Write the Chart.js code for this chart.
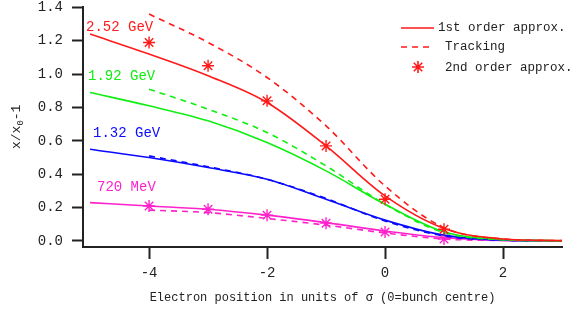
<!DOCTYPE html>
<html>
<head>
<meta charset="utf-8">
<script src="https://cdn.jsdelivr.net/npm/chart.js@4.4.1/dist/chart.umd.min.js"></script>
<style>
  html, body { margin: 0; padding: 0; background: #fff; }
  #wrap { width: 575px; height: 312px; }
</style>
</head>
<body>
<div id="wrap"><canvas id="grafico"></canvas></div>
<script>
// posições do elétron (unidades de sigma)
const posCurva = [-5, -4, -3, -2, -1, 0, 1, 2, 3];
const posTracking = [-4, -3, -2, -1, 0, 1, 2, 3];
const posSegunda = [-4, -3, -2, -1, 0, 1];

// 2.52 GeV
const primeira252 = [1.24, 1.12, 0.99, 0.83, 0.57, 0.27, 0.075, 0.012, 0.002];
const tracking252 = [1.36, 1.19, 0.98, 0.69, 0.33, 0.08, 0.012, 0.002];
const segunda252 = [1.19, 1.05, 0.84, 0.57, 0.25, 0.07];
// 1.92 GeV
const primeira192 = [0.89, 0.81, 0.72, 0.59, 0.42, 0.22, 0.055, 0.008, 0.001];
const tracking192 = [0.91, 0.79, 0.65, 0.45, 0.22, 0.05, 0.008, 0.001];
// 1.32 GeV
const primeira132 = [0.55, 0.50, 0.44, 0.37, 0.25, 0.125, 0.035, 0.005, 0.001];
const tracking132 = [0.51, 0.445, 0.37, 0.255, 0.12, 0.03, 0.005, 0.001];
// 720 MeV
const primeira720 = [0.23, 0.21, 0.19, 0.155, 0.11, 0.06, 0.02, 0.004, 0.001];
const tracking720 = [0.185, 0.17, 0.135, 0.095, 0.048, 0.012, 0.003, 0.001];
const segunda720 = [0.21, 0.19, 0.155, 0.107, 0.054, 0.012];

const ticksX = [-4, -2, 0, 2];
const ticksY = [0, 0.2, 0.4, 0.6, 0.8, 1.0, 1.2, 1.4];
const energias = ['2.52 GeV', '1.92 GeV', '1.32 GeV', '720 MeV'];

const VERMELHO = '#ff1a1a', VERDE = '#11ee11', AZUL = '#0a0aff', ROSA = '#ff22cc';
const FONTE = '"Liberation Mono", "DejaVu Sans Mono", monospace';

function pares(xs, ys) { return xs.map((x, i) => ({ x: x, y: ys[i] })); }

function linha(dados, cor, tracejada) {
    return {
        data: dados, borderColor: cor, backgroundColor: cor,
        borderWidth: 1.6, pointRadius: 0, fill: false,
        cubicInterpolationMode: 'monotone',
        borderDash: tracejada ? [6, 5] : []
    };
}
function estrelas(dados, cor) {
    return {
        data: dados, borderColor: cor, backgroundColor: cor, showLine: false,
        pointStyle: 'star', pointRadius: 6, pointBorderWidth: 1.4
    };
}

// textos extras: rótulos de energia, legenda e título do eixo y
const textosExtras = {
    id: 'textosExtras',
    afterDraw(chart) {
        const c = chart.ctx;
        c.save();
        c.textBaseline = 'middle';
        c.font = '14px ' + FONTE;
        const rotulos = [[86, 27, VERMELHO], [88, 76, VERDE], [93, 133, AZUL], [97, 187, ROSA]];
        energias.forEach((t, i) => {
            c.fillStyle = rotulos[i][2];
            c.fillText(t, rotulos[i][0], rotulos[i][1]);
        });

        // legenda
        c.font = '12.5px ' + FONTE;
        c.fillStyle = '#222';
        c.fillText('1st order approx.', 438, 28);
        c.fillText('Tracking', 445, 47);
        c.fillText('2nd order approx.', 445, 68);
        c.strokeStyle = VERMELHO;
        c.lineWidth = 1.6;
        c.beginPath(); c.moveTo(401, 28); c.lineTo(434, 28); c.stroke();
        c.setLineDash([6, 5]);
        c.beginPath(); c.moveTo(401, 47); c.lineTo(434, 47); c.stroke();
        c.setLineDash([]);
        Chart.helpers.drawPoint(c, { pointStyle: 'star', radius: 6, borderWidth: 1.4 }, 418, 67);

        // título y
        c.translate(17, 125);
        c.rotate(-Math.PI / 2);
        c.fillStyle = '#222';
        c.font = '13px ' + FONTE;
        c.textAlign = 'left';
        let x = -24;
        c.fillText('x/x', x, 0); x += c.measureText('x/x').width;
        c.font = '9px ' + FONTE;
        c.fillText('0', x, 4); x += c.measureText('0').width;
        c.font = '13px ' + FONTE;
        c.fillText('-1', x, 0);
        c.restore();
    }
};

new Chart(document.getElementById('grafico'), {
    type: 'line',
    data: {
        datasets: [
            linha(pares(posCurva, primeira252), VERMELHO, false),
            linha(pares(posTracking, tracking252), VERMELHO, true),
            estrelas(pares(posSegunda, segunda252), VERMELHO),
            linha(pares(posCurva, primeira192), VERDE, false),
            linha(pares(posTracking, tracking192), VERDE, true),
            linha(pares(posCurva, primeira132), AZUL, false),
            linha(pares(posTracking, tracking132), AZUL, true),
            linha(pares(posCurva, primeira720), ROSA, false),
            linha(pares(posTracking, tracking720), ROSA, true),
            estrelas(pares(posSegunda, segunda720), ROSA)
        ]
    },
    options: {
        responsive: true,
        maintainAspectRatio: false,
        animation: false,
        layout: { padding: { top: 5, right: 13, left: 0, bottom: 0 } },
        plugins: { legend: { display: false }, tooltip: { enabled: false } },
        scales: {
            x: {
                type: 'linear', min: -5.12, max: 3.0,
                afterBuildTicks: s => { s.ticks = ticksX.map(v => ({ value: v })); },
                afterFit: s => { s.height = 65; },
                grid: { drawOnChartArea: false, drawTicks: true, tickLength: 12, tickWidth: 2, tickColor: '#222' },
                border: { color: '#222', width: 2 },
                ticks: { color: '#222', font: { family: FONTE, size: 14 }, padding: 6, maxRotation: 0,
                         callback: v => String(v) },
                title: {
                    display: true, color: '#222',
                    text: 'Electron position in units of σ (0=bunch centre)',
                    font: { family: FONTE, size: 12 }, padding: { top: 1, bottom: 7 }
                }
            },
            y: {
                min: -0.036, max: 1.4,
                afterBuildTicks: s => { s.ticks = ticksY.map(v => ({ value: v })); },
                afterFit: s => { s.width = 83; s.paddingTop = 0; },
                grid: { drawOnChartArea: false, drawTicks: true, tickLength: 11, tickWidth: 2, tickColor: '#222' },
                border: { color: '#222', width: 2 },
                ticks: { color: '#222', font: { family: FONTE, size: 14 }, padding: 9,
                         callback: v => v.toFixed(1) }
            }
        }
    },
    plugins: [textosExtras]
});
</script>
</body>
</html>
